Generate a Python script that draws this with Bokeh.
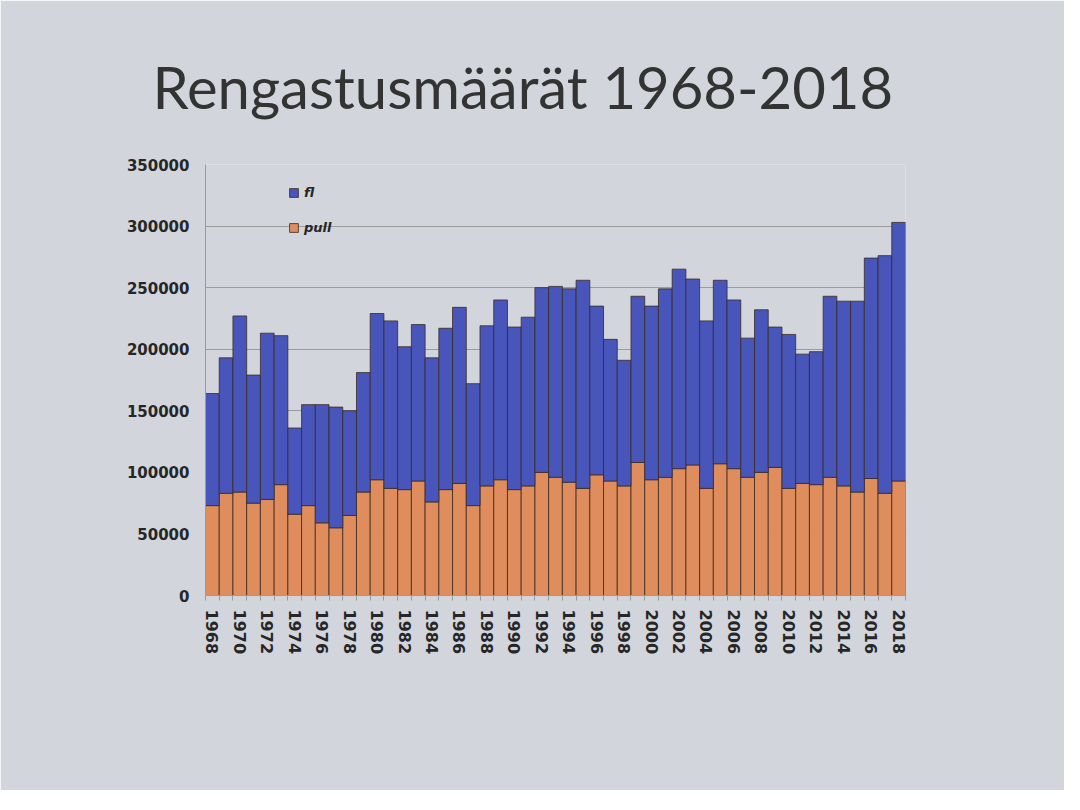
from bokeh.plotting import figure
from bokeh.models import (Range1d, FixedTicker, BasicTickFormatter, Legend, LegendItem,
                          ColumnDataSource, Title)
from bokeh.embed import file_html
from bokeh.resources import INLINE

years = list(range(1968, 2019))
pull = [73, 83, 84, 75, 78, 90, 66, 73, 59, 55, 65, 84, 94, 87, 86, 93, 76, 86, 91, 73,
        89, 94, 86, 89, 100, 96, 92, 87, 98, 93, 89, 108, 94, 96, 103, 106, 87, 107, 103, 96,
        100, 104, 87, 91, 90, 96, 89, 84, 95, 83, 93]
fl = [91, 110, 143, 104, 135, 121, 70, 82, 96, 98, 85, 97, 135, 136, 116, 127, 117, 131, 143, 99,
      130, 146, 132, 137, 150, 155, 157, 169, 137, 115, 102, 135, 141, 153, 162, 151, 136, 149, 137, 113,
      132, 114, 125, 105, 108, 147, 150, 155, 179, 193, 210]
pull = [v * 1000 for v in pull]
fl = [v * 1000 for v in fl]
label_years = list(range(1968, 2019, 2))
y_ticks = [0, 50000, 100000, 150000, 200000, 250000, 300000, 350000]
title_text = "Rengastusmäärät 1968-2018"

BG = "#d2d6dc"
BLUE = "#4856bb"
ORANGE = "#e08d5e"

src = ColumnDataSource(dict(year=years, pull=pull, fl=fl))

p = figure(width=1064, height=790, output_backend="svg", toolbar_location=None,
           x_range=Range1d(1967.5, 2018.5), y_range=Range1d(0, 350000),
           min_border_left=205, min_border_right=159, min_border_top=164, min_border_bottom=195)
p.background_fill_color = BG
p.border_fill_color = BG
p.outline_line_color = None

rs = p.vbar_stack(["pull", "fl"], x="year", width=1.0, source=src,
                  color=[ORANGE, BLUE], line_color="#3a2a20", line_width=0.8)

t = Title(text=title_text, align="left", offset=-53, standoff=88,
          text_font="Lato", text_font_size="58px", text_font_style="normal",
          text_color="#333333")
p.add_layout(t, "above")

p.xaxis.ticker = FixedTicker(ticks=label_years,
                             minor_ticks=[y + 0.5 for y in range(1967, 2019)])
p.xaxis.major_label_orientation = "vertical"
p.xaxis.major_tick_line_color = None
p.xaxis.minor_tick_line_color = "#9a9a9a"
p.xaxis.minor_tick_in = 0
p.xaxis.minor_tick_out = 5
p.xaxis.axis_line_color = "#9a9a9a"
p.xaxis.major_label_text_font = "DejaVu Sans"
p.xaxis.major_label_text_font_style = "bold"
p.xaxis.major_label_text_font_size = "16px"
p.xaxis.major_label_text_color = "#262626"
p.xaxis.major_label_standoff = 8

p.yaxis.ticker = FixedTicker(ticks=y_ticks)
p.yaxis.formatter = BasicTickFormatter(use_scientific=False)
p.yaxis.major_tick_line_color = None
p.yaxis.minor_tick_line_color = None
p.yaxis.axis_line_color = "#9a9a9a"
p.yaxis.major_label_text_font = "DejaVu Sans"
p.yaxis.major_label_text_font_style = "bold"
p.yaxis.major_label_text_font_size = "15px"
p.yaxis.major_label_text_color = "#262626"
p.yaxis.major_label_standoff = 10

p.xgrid.grid_line_color = None
p.ygrid.ticker = FixedTicker(ticks=y_ticks)
p.ygrid.grid_line_color = "#9c9c9c"
p.ygrid.grid_line_width = 1

legend = Legend(items=[LegendItem(label="fl", renderers=[rs[1]]),
                       LegendItem(label="pull", renderers=[rs[0]])],
                location=(83, 358), orientation="vertical")
legend.background_fill_alpha = 0
legend.border_line_color = None
legend.padding = 0
legend.margin = 0
legend.spacing = 15
legend.glyph_width = 11
legend.glyph_height = 11
legend.label_height = 20
legend.label_standoff = 5
legend.label_text_font = "DejaVu Sans"
legend.label_text_font_style = "bold italic"
legend.label_text_font_size = "13px"
legend.label_text_color = "#262626"
p.add_layout(legend, "center")

open("out.html", "w").write(file_html(p, INLINE))
